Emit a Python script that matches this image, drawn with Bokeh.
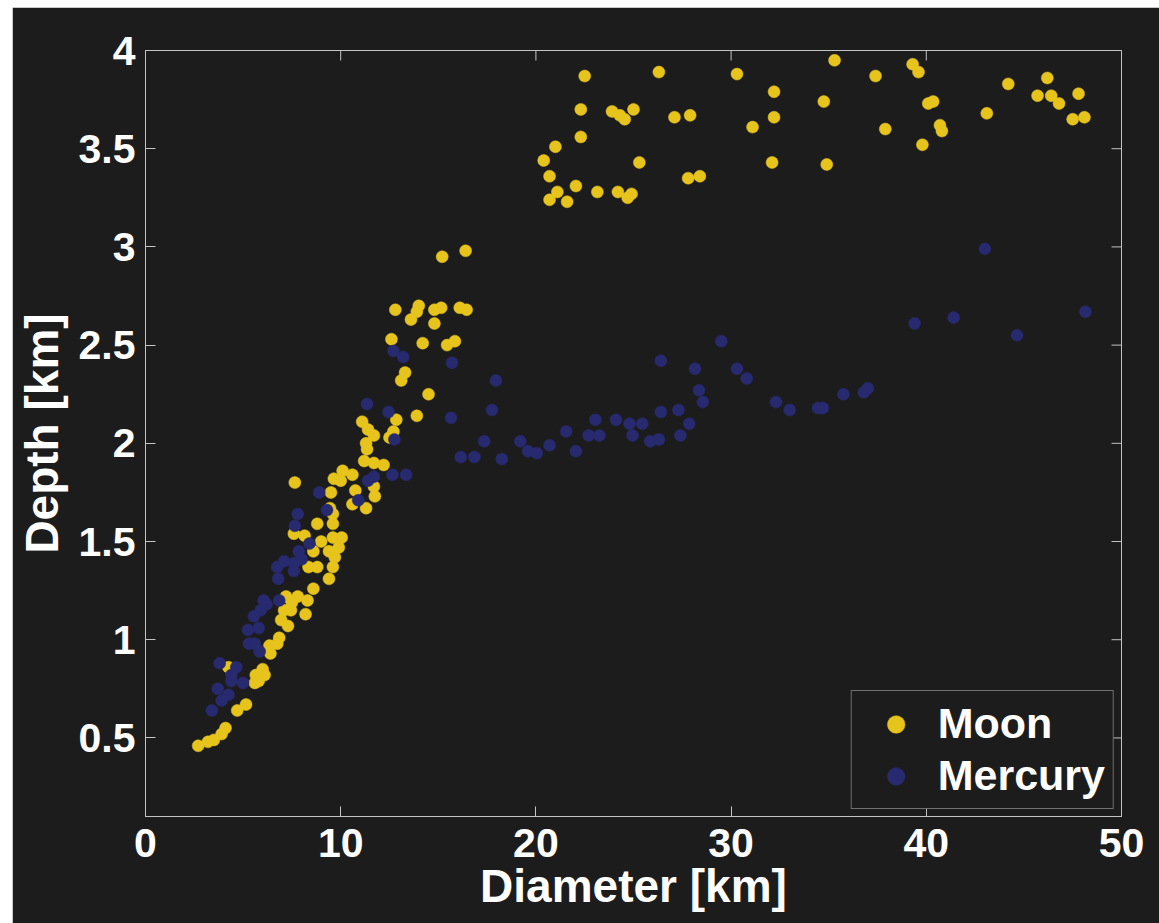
import math
from bokeh.plotting import figure
from bokeh.models import Legend, LegendItem, FixedTicker, Range1d, CustomJSTickFormatter
from bokeh.embed import file_html
from bokeh.resources import INLINE

# ---------------- data ----------------
moon_diameter = [
    22.5, 26.3, 30.3, 35.3, 22.3, 23.9, 24.3, 24.55, 25.0, 27.1, 27.9, 32.2, 32.2, 31.1, 34.75,
    22.3, 21.0, 20.4, 20.7, 25.3, 32.1, 34.9, 21.1, 20.7, 21.6, 22.05, 23.15, 24.2, 24.9, 24.7,
    27.8, 28.4, 37.4, 39.3, 39.6, 40.1, 40.35, 40.7, 40.8, 37.9, 39.8, 43.1, 44.2, 46.2, 45.7,
    46.4, 46.8, 47.8, 47.5, 48.1,
    15.2, 16.4, 12.8, 13.6, 13.9, 14.0, 14.8, 15.15, 14.8, 16.1, 16.45, 12.6, 14.2, 15.45, 15.85,
    13.1, 13.3, 14.5, 13.9, 12.85, 11.1, 11.4, 11.7, 11.3, 11.35, 12.7, 12.5, 11.2, 11.7, 12.2,
    10.1, 9.65, 10.0, 10.6, 7.65, 9.5, 10.75, 11.7, 11.75, 10.6, 11.3, 9.45, 9.6, 8.8, 9.6,
    7.6, 8.15, 9.0, 8.6, 9.6, 10.05, 9.4, 9.9, 9.7, 9.6, 8.8, 8.35, 9.4, 8.6, 7.2,
    7.8, 8.3, 8.2, 7.1, 7.45, 6.95, 7.3, 6.85, 6.75, 6.35, 6.4, 6.0, 5.65, 5.6, 6.1,
    4.25, 5.15, 4.7, 4.1, 3.9, 3.5, 2.7, 3.2, 5.8, 7.5,
]
moon_depth = [
    3.87, 3.89, 3.88, 3.95, 3.70, 3.69, 3.67, 3.65, 3.70, 3.66, 3.67, 3.79, 3.66, 3.61, 3.74,
    3.56, 3.51, 3.44, 3.36, 3.43, 3.43, 3.42, 3.28, 3.24, 3.23, 3.31, 3.28, 3.28, 3.27, 3.25,
    3.35, 3.36, 3.87, 3.93, 3.89, 3.73, 3.74, 3.62, 3.59, 3.60, 3.52, 3.68, 3.83, 3.86, 3.77,
    3.77, 3.73, 3.78, 3.65, 3.66,
    2.95, 2.98, 2.68, 2.63, 2.67, 2.70, 2.68, 2.69, 2.61, 2.69, 2.68, 2.53, 2.51, 2.50, 2.52,
    2.32, 2.36, 2.25, 2.14, 2.12, 2.11, 2.07, 2.04, 2.00, 1.97, 2.06, 2.03, 1.91, 1.90, 1.89,
    1.86, 1.82, 1.81, 1.84, 1.80, 1.75, 1.76, 1.78, 1.73, 1.69, 1.67, 1.67, 1.64, 1.59, 1.59,
    1.54, 1.53, 1.50, 1.45, 1.52, 1.52, 1.45, 1.47, 1.42, 1.37, 1.37, 1.37, 1.31, 1.26, 1.22,
    1.22, 1.20, 1.13, 1.15, 1.15, 1.10, 1.07, 1.01, 0.98, 0.97, 0.93, 0.85, 0.82, 0.78, 0.82,
    0.86, 0.67, 0.64, 0.55, 0.52, 0.49, 0.46, 0.48, 0.79, 1.19,
]

mercury_diameter = [
    8.9, 9.3, 7.8, 7.65, 8.4, 7.85, 8.0, 7.6, 6.75, 7.1, 7.6, 6.8, 6.05, 5.9, 5.55,
    5.25, 5.8, 5.3, 5.85, 3.8, 4.65, 4.4, 3.7, 5.0, 4.25, 3.4, 3.9, 6.85, 10.9, 11.35,
    12.45, 12.75, 12.65, 13.35, 11.7, 11.4, 12.7, 13.2, 15.7, 15.65, 17.35, 16.15, 16.85,
    17.95, 17.75, 18.25, 19.2, 19.6, 20.05, 20.7, 21.55, 22.05, 22.7, 23.25, 23.05, 24.1,
    24.8, 25.45, 24.95, 25.85, 26.3, 26.4, 27.3, 27.85, 27.4, 26.4, 28.15, 28.35, 28.55,
    29.5, 30.3, 30.8, 32.3, 33.0, 34.45, 34.7, 43.0, 39.4, 41.4, 44.65, 48.15, 35.75, 36.8,
    37.0, 5.6, 6.2, 4.4,
]
mercury_depth = [
    1.75, 1.66, 1.64, 1.58, 1.49, 1.45, 1.41, 1.39, 1.37, 1.40, 1.35, 1.31, 1.20, 1.15, 1.12,
    1.05, 1.06, 0.98, 0.94, 0.88, 0.86, 0.79, 0.75, 0.78, 0.72, 0.64, 0.69, 1.20, 1.71, 2.20,
    2.16, 2.02, 1.84, 1.84, 1.83, 1.81, 2.47, 2.44, 2.41, 2.13, 2.01, 1.93, 1.93,
    2.32, 2.17, 1.92, 2.01, 1.96, 1.95, 1.99, 2.06, 1.96, 2.04, 2.04, 2.12, 2.12,
    2.10, 2.10, 2.04, 2.01, 2.02, 2.16, 2.17, 2.10, 2.04, 2.42, 2.38, 2.27, 2.21,
    2.52, 2.38, 2.33, 2.21, 2.17, 2.18, 2.18, 2.99, 2.61, 2.64, 2.55, 2.67, 2.25, 2.26,
    2.28, 0.98, 1.18, 0.82,
]

x_ticks = [0, 10, 20, 30, 40, 50]
y_ticks = [0.5, 1, 1.5, 2, 2.5, 3, 3.5, 4]
x_limits = (0, 50)
y_limits = (0.1, 4)
series_labels = ["Moon", "Mercury"]
x_label = "Diameter [km]"
y_label = "Depth [km]"

# ---------------- style ----------------
BG = "#1c1c1c"
FRAME = "#c4c4c4"
MOON = "#e7c41b"
MERC = "#282a70"
FONT = "Liberation Sans"
TICK_LEN = 10

p = figure(width=1147, height=916,
           x_range=Range1d(*x_limits), y_range=Range1d(*y_limits),
           output_backend="svg", toolbar_location=None,
           background_fill_color=BG, border_fill_color=BG,
           min_border_left=132, min_border_right=38,
           min_border_top=43, min_border_bottom=107)
p.margin = (7, 0, 0, 12)
p.xgrid.visible = False
p.ygrid.visible = False
p.outline_line_color = FRAME
p.outline_line_width = 1

fmt = CustomJSTickFormatter(code="return tick.toString();")

for ax, ticks in ((p.xaxis[0], x_ticks), (p.yaxis[0], y_ticks)):
    ax.ticker = FixedTicker(ticks=ticks)
    ax.formatter = fmt
    ax.axis_line_color = FRAME
    ax.major_tick_line_color = FRAME
    ax.major_tick_in = TICK_LEN
    ax.major_tick_out = 0
    ax.minor_tick_line_color = None
    ax.major_label_text_font = FONT
    ax.major_label_text_font_style = "bold"
    ax.major_label_text_font_size = "41px"
    ax.major_label_text_color = "white"
    ax.axis_label_text_font = FONT
    ax.axis_label_text_font_style = "bold"
    ax.axis_label_text_font_size = "46px"
    ax.axis_label_text_color = "white"

p.xaxis[0].axis_label = x_label
p.yaxis[0].axis_label = y_label
p.xaxis[0].major_label_standoff = 12
p.xaxis[0].axis_label_standoff = 0
p.yaxis[0].major_label_standoff = 10
p.yaxis[0].axis_label_standoff = 8

# mirrored inward ticks on the top and right edges of the box
p.ray(x=x_ticks, y=[y_limits[1]] * len(x_ticks), length=TICK_LEN, length_units="screen",
      angle=-math.pi / 2, line_color=FRAME, line_width=1)
p.ray(x=[x_limits[1]] * len(y_ticks), y=y_ticks, length=TICK_LEN, length_units="screen",
      angle=math.pi, line_color=FRAME, line_width=1)

r_moon = p.scatter(moon_diameter, moon_depth, size=12, marker="circle",
                   fill_color=MOON, line_color=MOON, line_width=0.5)
r_merc = p.scatter(mercury_diameter, mercury_depth, size=12, marker="circle",
                   fill_color=MERC, line_color=MERC, line_width=0.5)

legend = Legend(items=[LegendItem(label=series_labels[0], renderers=[r_moon]),
                       LegendItem(label=series_labels[1], renderers=[r_merc])],
                location="bottom_right", margin=7, padding=8, spacing=3,
                glyph_width=72, glyph_height=44, label_height=44, label_standoff=6,
                label_text_font=FONT, label_text_font_style="bold",
                label_text_font_size="43px", label_text_color="white",
                label_text_baseline="middle",
                border_line_color=FRAME, border_line_width=1,
                background_fill_color=BG, background_fill_alpha=1.0)
p.add_layout(legend)

open("out.html", "w").write(file_html(p, INLINE))
